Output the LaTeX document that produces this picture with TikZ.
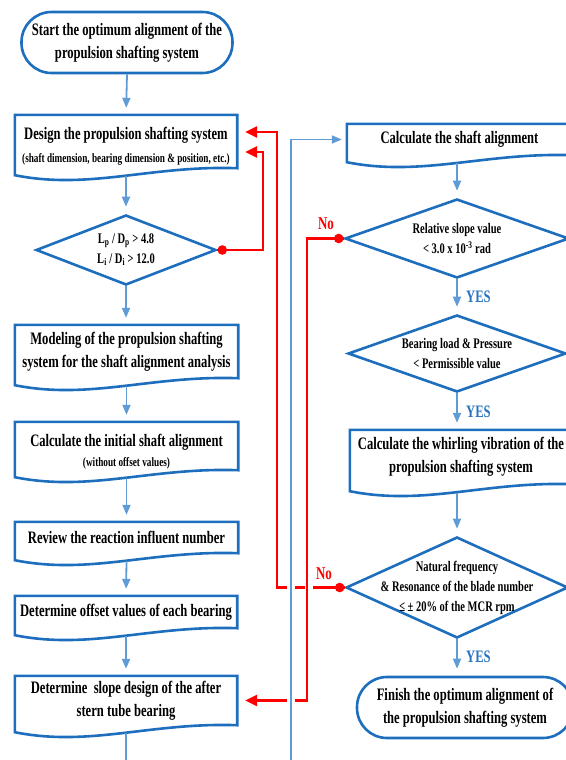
\documentclass[tikz,border=0pt]{standalone}
\usepackage{fontspec}
\setmainfont{Liberation Serif}[FakeStretch=0.72]
\usetikzlibrary{shapes.geometric,arrows.meta,calc}
\definecolor{boxblue}{RGB}{30,110,190}
\definecolor{arrblue}{RGB}{95,155,215}
\definecolor{yesblue}{RGB}{40,115,190}
\definecolor{nored}{RGB}{255,0,0}
\newcommand\bigtxt{\fontsize{17.5}{23}\selectfont\bfseries}
\newcommand\smalltxt{\fontsize{12.8}{15}\selectfont\bfseries}
\newcommand\dtxt{\fontsize{14.6}{20}\selectfont\bfseries}
\tikzset{
  boxline/.style={draw=boxblue, line width=2.6pt},
  docnode/.style={rectangle, inner sep=0pt, align=center, font=\bigtxt},
  termnode/.style={rectangle, draw=boxblue, line width=2.6pt, rounded corners=30pt,
    minimum width=211pt, minimum height=61pt, align=center, font=\bigtxt, inner sep=0pt},
  decnode/.style={diamond, draw=boxblue, line width=2.6pt, inner sep=-14pt, aspect=2.8,
    align=center, font=\dtxt},
  flow/.style={draw=arrblue, line width=1.8pt, -{Triangle[length=10pt,width=8pt]}, shorten >=7pt},
  back/.style={draw=nored, line width=2.6pt, -{Triangle[length=12pt,width=11pt]}, shorten >=8pt},
  redplain/.style={draw=nored, line width=2.6pt},
  gap/.style={draw=white, line width=8pt},
  yes/.style={font=\bigtxt, text=yesblue, anchor=west, inner sep=0pt},
  nolab/.style={font=\fontsize{18}{20}\selectfont\bfseries, text=nored, inner sep=0pt},
}
% #1 name, #2 left x, #3 right x, #4 top y, #5 bottom-right y, #6 text
\newcommand\docbox[6]{%
  \node[docnode, minimum width={#3-#2}, minimum height={#5-#4}] (#1) at ({(#2+#3)/2},{(#4+#5)/2}) {#6};
  \draw[boxline] (#1.north west) -- (#1.north east) -- (#1.south east)
    .. controls ($(#1.south east)+(-87,-3)$) and ($(#1.south west)+(75,22)$) .. ($(#1.south west)+(0,7)$) -- cycle;
}
\begin{document}
\begin{tikzpicture}[x=1pt,y=-1pt]
\useasboundingbox (0,0) rectangle (565,760);
% ---------- left column ----------
\node[termnode] (start) at (127,42.5) {Start the optimum alignment of the\\propulsion shafting system};
\docbox{design}{15}{237}{115}{168}{\rule{0pt}{21pt}Design the propulsion shafting system\\{\smalltxt (shaft dimension, bearing dimension \& position, etc.)}}
\node[decnode, minimum width=180pt, minimum height=70pt] (d1) at (126,250)
  {L\textsubscript{p} / D\textsubscript{p} > 4.8\\L\textsubscript{i} / D\textsubscript{i} > 12.0};
\docbox{model}{15}{238}{325}{378}{Modeling of the propulsion shafting\\system for the shaft alignment analysis}
\docbox{initial}{15}{238}{422}{470}{\rule{0pt}{24pt}Calculate the initial shaft alignment\\[-3pt]{\smalltxt (without offset values)}}
\docbox{review}{15}{238}{522}{553}{Review the reaction influent number}
\docbox{offset}{15}{237}{596}{628}{Determine offset values of each bearing}
\docbox{slope}{15}{237}{676}{725}{Determine\ \ slope design of the after\\stern tube bearing}
% ---------- right column ----------
\docbox{calc}{347}{572}{124}{155}{Calculate the shaft alignment}
\node[decnode, minimum width=224pt, minimum height=79pt] (d2) at (457,238.5)
  {Relative slope value\\< 3.0 x 10\textsuperscript{-3} rad};
\node[decnode, minimum width=218pt, minimum height=77pt] (d3) at (457,353.5)
  {Bearing load \& Pressure\\< Permissible value};
\docbox{whirl}{350}{572}{430}{484}{Calculate the whirling vibration of the\\propulsion shafting system}
\node[decnode, minimum width=222pt, minimum height=101pt] (d4) at (457,587.5)
  {Natural frequency\\\& Resonance of the blade number\\≤ ± 20\% of the MCR rpm};
\node[termnode, minimum width=216pt] (finish) at (465,707.5) {Finish the optimum alignment of\\the propulsion shafting system};
% ---------- labels ----------
\node[yes] (yes1) at (466,297) {YES};
\node[yes] (yes2) at (466,412) {YES};
\node[yes] (yes3) at (466,657) {YES};
\node[nolab] (no1) at (326,224) {No};
\node[nolab] (no2) at (324,574) {No};
% ---------- blue flow ----------
\draw[flow] (start.south) -- (design.north);
\draw[flow] ($(design.south)+(0,8)$) -- (d1.north);
\draw[flow] (d1.south) -- (d1.south |- model.north);
\draw[flow] ($(model.south)+(0,8)$) -- (initial.north);
\draw[flow] ($(initial.south)+(0,8)$) -- (review.north);
\draw[flow] ($(review.south)+(0,8)$) -- (offset.north);
\draw[flow] ($(offset.south)+(0,8)$) -- (slope.north);
\draw[flow] ($(calc.south -| d2.north)+(0,8)$) -- (d2.north);
\draw[flow] (d2.south) -- (d3.north);
\draw[flow] (d3.south) -- (d3.south |- whirl.north);
\draw[flow] ($(whirl.south -| d4.north)+(0,9)$) -- (d4.north);
\draw[flow] (d4.south) -- (d4.south |- finish.north);
% ---------- red feedback ----------
\coordinate (rx1) at (263,0);
\coordinate (rx2) at (277,0);
\coordinate (rx3) at (307,0);
\coordinate (loopbot) at (291,790);
\draw[back] (d4.west) -- (d4.west -| rx2) |- ($(design.east)+(0,-9.5)$);
\draw[back] (d2.west) -- (d2.west -| rx3) |- (slope.east);
\draw[back] (d1.east) -- (d1.east -| rx1) |- ($(design.east)+(0,10.5)$);
\fill[nored] ($(d1.east)+(5,0)$) circle (4.8pt);
\fill[nored] ($(d2.west)+(-5,0)$) circle (4.8pt);
\fill[nored] ($(d4.west)+(-5,0)$) circle (4.8pt);
% crossing gaps
\draw[gap] ($(d4.west -| rx3)+(1.5,-12)$) -- ++(0,24);
\draw[redplain] (d4.west -| rx3) ++(0,-14) -- ++(0,28);
\draw[gap] (d4.west -| loopbot) ++(0,-12) -- ++(0,24);
\draw[gap] (slope.east -| loopbot) ++(0,-12) -- ++(0,24);
% ---------- blue loop back ----------
\draw[flow, shorten >=5pt] ($(slope.south)+(0,8)$) |- (loopbot) |- (calc.west);
\end{tikzpicture}
\end{document}
